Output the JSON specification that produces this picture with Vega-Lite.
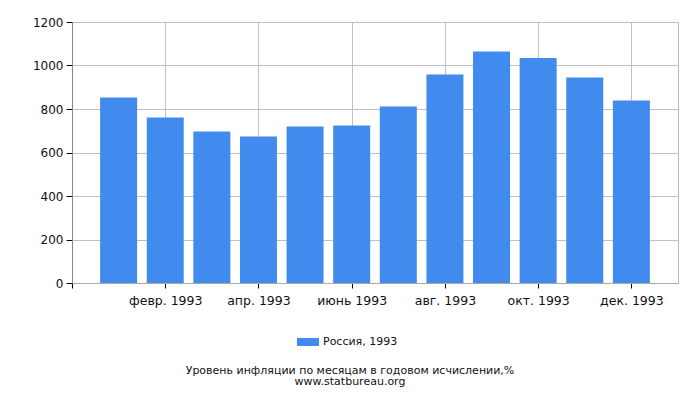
{
  "$schema": "https://vega.github.io/schema/vega-lite/v6.json",
  "width": 606,
  "height": 261,
  "autosize": {"type": "none"},
  "padding": {"left": 72, "top": 22, "right": 22, "bottom": 117},
  "background": "white",
  "config": {
    "font": "DejaVu Sans",
    "view": {"stroke": "#bbbbbb"}
  },
  "title": {
    "text": ["Уровень инфляции по месяцам в годовом исчислении,%", "www.statbureau.org"],
    "orient": "bottom",
    "anchor": "middle",
    "fontSize": 11,
    "fontWeight": "normal",
    "color": "#111111",
    "dx": -25,
    "offset": 18,
    "lineHeight": 10.5
  },
  "data": {
    "values": [
      {"month": 1, "value": 853},
      {"month": 2, "value": 761},
      {"month": 3, "value": 697},
      {"month": 4, "value": 674},
      {"month": 5, "value": 720},
      {"month": 6, "value": 724},
      {"month": 7, "value": 811},
      {"month": 8, "value": 959},
      {"month": 9, "value": 1064},
      {"month": 10, "value": 1034},
      {"month": 11, "value": 945},
      {"month": 12, "value": 839}
    ]
  },
  "mark": {"type": "bar", "width": 37},
  "encoding": {
    "x": {
      "field": "month",
      "type": "quantitative",
      "scale": {"domain": [0, 13], "nice": false, "zero": false, "padding": 0},
      "axis": {
        "title": null,
        "values": [0, 2, 4, 6, 8, 10, 12],
        "labelExpr": "['', 'янв. 1993', 'февр. 1993', 'март 1993', 'апр. 1993', 'май 1993', 'июнь 1993', 'июль 1993', 'авг. 1993', 'сент. 1993', 'окт. 1993', 'нояб. 1993', 'дек. 1993'][datum.value]",
        "grid": true,
        "gridColor": "#c0c0c0",
        "domainColor": "#aaaaaa",
        "tickColor": "#000000",
        "tickSize": 5,
        "labelFontSize": 12.5,
        "labelColor": "#111111",
        "labelPadding": 6,
        "labelOverlap": false
      }
    },
    "y": {
      "field": "value",
      "type": "quantitative",
      "scale": {"domain": [0, 1200], "nice": false},
      "axis": {
        "title": null,
        "values": [0, 200, 400, 600, 800, 1000, 1200],
        "format": "d",
        "grid": true,
        "gridColor": "#c0c0c0",
        "domainColor": "#888888",
        "tickColor": "#000000",
        "tickSize": 6,
        "labelFontSize": 12,
        "labelColor": "#111111",
        "labelPadding": 3
      }
    },
    "color": {
      "datum": "Россия, 1993",
      "scale": {"range": ["#418bee"]},
      "legend": {
        "title": null,
        "orient": "none",
        "legendX": 225,
        "legendY": 309,
        "symbolType": "M-1,-0.364H1V0.364H-1Z",
        "symbolSize": 484,
        "symbolStrokeWidth": 0,
        "labelFontSize": 11,
        "labelColor": "#111111",
        "labelOffset": 4
      }
    }
  }
}
